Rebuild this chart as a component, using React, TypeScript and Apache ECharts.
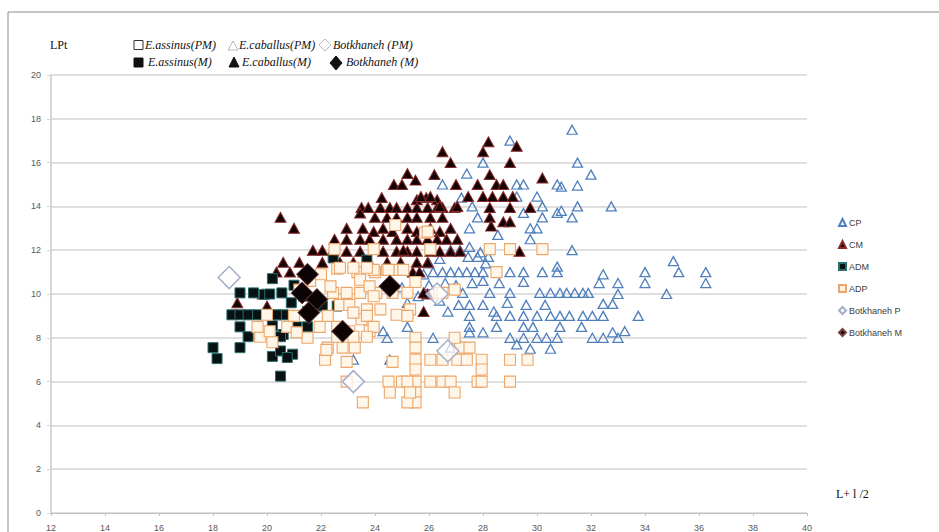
import React, { useEffect, useRef } from "react";
import * as echarts from "echarts";

const xTicks = [12, 40];
const yTicks = [0, 20];

const cpData = [
  [31.3,17.5],[29.0,17.0],[31.5,16.0],[28.0,16.0],[32.0,15.45],[27.4,15.5],[26.5,15.0],[29.25,15.0],[29.5,15.0],[30.75,15.0],[31.5,14.95],[30.9,14.9],
  [27.2,14.4],[29.25,14.45],[30.0,14.45],[27.6,14.0],[30.2,14.0],[31.5,14.0],[32.75,14.0],[29.5,13.7],[30.75,13.7],[30.9,13.8],[31.3,13.5],[27.8,13.5],
  [30.2,13.5],[27.5,13.0],[29.75,13.0],[30.0,13.0],[29.75,12.5],[28.55,12.7],[27.5,12.15],[31.3,12.0],[26.8,12.0],[27.15,12.0],[27.9,11.9],[27.45,11.7],
  [27.8,11.7],[28.2,11.7],[28.1,11.4],[30.75,11.25],
  [26.15,11.0],[26.5,11.0],[26.8,11.0],[27.1,11.0],[27.4,11.0],[27.7,11.0],[28.0,11.0],[29.0,11.0],[29.5,11.0],[30.2,11.0],[30.75,11.0],[32.45,10.9],
  [34.0,11.0],[35.25,11.0],[36.25,11.0],[35.05,11.5],
  [29.5,10.55],[32.3,10.5],[33.0,10.5],[34.0,10.5],[36.25,10.5],
  [27.25,10.05],[28.25,10.05],[29.0,10.05],[30.1,10.05],[30.5,10.05],[30.85,10.05],[31.1,10.05],[31.4,10.05],[31.7,10.05],[31.9,10.05],[33.0,10.0],[34.8,10.0],
  [27.5,9.5],[28.0,9.5],[32.45,9.55],[32.8,9.55],
  [27.5,9.0],[28.5,9.0],[29.0,9.0],[29.5,9.0],[30.0,9.0],[30.5,9.0],[30.85,9.0],[31.2,9.0],[31.7,9.0],[32.05,9.0],[32.45,9.0],[33.75,9.0],
  [27.5,8.5],[28.5,8.5],[29.5,8.5],[29.85,8.5],[30.85,8.5],[31.65,8.5],
  [26.15,8.0],[27.0,8.0],[27.5,8.25],[28.0,8.25],[29.0,8.0],[29.5,8.0],[30.0,8.0],[30.35,8.0],[30.75,8.0],[32.05,8.0],[32.45,8.0],[32.8,8.25],[33.0,8.0],[33.25,8.3],
  [29.25,7.7],[29.75,7.5],[30.5,7.5],
  [24.3,8.3],[24.45,8.0],[25.2,8.5],[23.2,7.0],[24.55,7.0],[26.8,7.55],
  [25.0,10.3],[25.5,10.6],[25.8,10.9],[26.0,10.4],[25.6,9.9],[25.2,9.6],[26.6,10.5],[26.0,11.4],[26.4,11.6],[26.7,9.2],[27.0,10.4],[27.6,10.5],
  [28.0,10.6],[28.6,10.5],[28.4,9.2],[28.9,9.6],[29.6,9.5],[30.3,9.5],[26.4,9.7],[27.1,9.5]
];

const cmData = [
  [20.5,13.5],[21.0,13.0],[26.5,16.5],[26.8,16.0],[28.2,16.95],[28.0,16.5],[29.25,16.75],[29.0,16.0],[30.2,15.3],[25.2,15.5],[24.7,15.0],[25.0,15.0],
  [25.5,15.2],[26.2,15.45],[27.0,15.0],[27.8,15.0],[28.25,15.45],[28.5,15.0],[28.75,15.0],
  [27.45,14.45],[28.0,14.45],[28.35,14.45],[28.75,14.45],[29.1,14.45],[24.25,14.4],[25.55,14.3],[25.9,14.4],[26.3,14.3],[25.7,14.45],[26.05,14.45],
  [23.5,13.95],[23.75,13.95],[24.2,13.95],[24.55,13.95],[24.8,13.95],[25.2,13.95],[25.55,13.95],[25.95,13.95],[26.3,13.95],[26.5,13.95],[26.95,13.95],
  [28.25,13.95],[29.0,13.95],[29.75,13.95],[26.4,14.0],[27.05,14.0],[23.45,13.7],
  [24.0,13.5],[24.45,13.5],[24.8,13.5],[25.2,13.5],[25.55,13.5],[26.05,13.5],[26.5,13.5],[28.25,13.5],[28.75,13.3],[29.0,13.3],[28.3,13.1],
  [22.95,13.0],[23.55,13.0],[23.95,12.85],[24.3,13.0],[24.65,12.85],[25.2,13.0],[25.55,12.85],[26.05,13.0],[26.4,12.85],[26.8,13.0],
  [22.5,12.5],[22.95,12.5],[23.45,12.5],[23.8,12.5],[24.3,12.5],[24.8,12.5],[25.2,12.5],[25.55,12.5],[25.95,12.5],[26.3,12.5],[26.65,12.5],[27.05,12.5],
  [21.7,12.0],[22.05,12.0],[22.45,12.0],[22.95,11.95],[23.45,11.95],[24.3,11.95],[24.8,11.95],[25.2,11.95],[25.55,11.95],[26.05,11.95],[26.4,11.95],
  [26.8,11.95],[27.15,11.95],[29.35,11.95],[25.05,12.0],
  [20.6,11.45],[21.2,11.45],[22.05,11.45],[22.7,11.45],[23.2,11.45],[23.8,11.45],[24.45,11.45],[24.95,11.45],[25.55,11.45],[25.95,11.45],
  [20.35,11.0],[20.85,11.0],[21.35,11.0],[25.4,11.0],[25.65,11.0],
  [25.95,10.0],[25.8,9.2],[25.8,10.05],
  [19.85,10.0],[18.9,9.6],[20.0,9.45]
];

const admData = [
  [20.2,10.7],[19.0,10.05],[19.5,10.05],[20.55,10.05],[19.9,9.98],[20.1,10.0],
  [18.7,9.05],[19.0,9.05],[19.3,9.05],[19.65,9.05],[20.6,9.05],[20.1,9.05],[20.35,9.05],
  [19.0,8.5],[19.3,8.05],[20.2,8.55],[20.85,8.5],[20.6,8.15],[21.1,8.5],[21.5,8.5],[20.5,8.05],
  [18.0,7.55],[18.15,7.05],[19.0,7.55],[20.2,7.15],[20.95,7.25],[20.5,7.4],[20.75,7.1],
  [20.5,6.25],
  [21.35,9.9],[22.45,11.65],[23.7,11.55],[22.05,9.45],[22.6,9.45],[21.5,9.2],[21.0,10.4],[20.9,9.6]
];

const adpData = [
  [22.6,11.15],[23.35,11.0],[24.0,11.0],[24.45,11.1],[25.5,10.55],[24.9,11.1],
  [22.45,10.05],[22.95,10.05],[23.45,10.05],[24.05,10.05],[24.65,10.05],[25.2,10.05],[26.4,10.05],
  [22.7,9.5],[23.05,9.5],[23.7,9.3],[24.2,9.3],[24.8,9.05],[25.3,9.3],
  [21.5,8.0],[21.95,8.5],[22.6,8.5],[23.05,8.3],[23.5,8.85],[23.8,8.3],
  [22.25,7.55],[22.8,7.55],[23.25,7.55],
  [22.15,7.0],[22.95,6.9],[24.65,6.9],
  [25.5,8.0],[25.5,7.55],[25.5,7.0],[25.5,6.55],[25.5,6.0],[25.5,5.5],[25.5,5.05],[25.2,5.05],
  [26.05,7.0],[26.5,7.0],[27.05,7.0],[27.4,7.0],[27.95,7.0],[27.15,7.55],[27.5,7.55],[27.95,6.55],[29.0,7.0],[29.65,7.0],
  [22.95,6.0],[24.5,6.0],[25.0,6.0],[25.2,6.0],[26.05,6.0],[26.5,6.0],[26.8,6.0],[27.8,6.0],[27.95,6.0],[29.0,6.0],
  [26.95,5.5],[23.55,5.05],[24.55,5.5],[25.3,5.5],
  [25.85,12.8],[26.05,12.05],[28.25,12.05],[29.0,12.05],[30.2,12.05],[28.5,11.0],[26.5,10.05],[26.95,10.2],[25.2,9.0],[26.95,8.0],
  [24.75,13.15],[25.95,12.85],[23.95,12.05],[22.5,12.05],[23.95,11.1],[24.5,11.1],[25.05,11.1],
  [22.7,11.2],[23.2,11.2],[23.7,11.2],[22.35,10.35],[23.45,10.65],[23.8,10.35],[23.95,9.9],[22.25,9.0],[23.2,9.15],[23.7,9.0],[23.95,8.5],
  [22.6,8.05],[23.2,8.05],[23.7,8.05],[22.2,7.45],[20.75,8.5],[21.1,8.25],[19.75,8.05],[20.2,7.8],[20.1,8.3],[19.65,8.5],[20.0,9.05],
  [21.2,10.2],[21.6,10.6],[22.0,10.9],[21.0,9.0]
];

const botPData = [[18.6,10.75],[23.2,6.0],[26.7,7.4],[26.3,10.0]];
const botMData = [[21.5,10.9],[21.3,10.05],[21.85,9.75],[21.55,9.15],[22.8,8.3],[24.55,10.35]];

const seriesNames = ["CP", "CM", "ADM", "ADP", "Botkhaneh P", "Botkhaneh M"];
const topLegendRow1 = ["E.assinus(PM)", "E.caballus(PM)", "Botkhaneh (PM)"];
const topLegendRow2 = ["E.assinus(M)", "E.caballus(M)", "Botkhaneh (M)"];

export default function App() {
  const ref = useRef<HTMLDivElement>(null);
  useEffect(() => {
    if (!ref.current) return;
    const chart = echarts.init(ref.current, null, { renderer: "svg" });
    const serif = "'Liberation Serif', 'DejaVu Serif', serif";
    const sans = "'Liberation Sans', 'Noto Sans', sans-serif";
    const legText = (x: number, y: number, t: string) => ({
      type: "text", x, y,
      style: { text: t, font: `italic 12px ${serif}`, fill: "#111", verticalAlign: "middle" },
    });
    chart.setOption({
      animation: false,
      backgroundColor: "#fff",
      grid: { left: 51, right: 132, top: 75, bottom: 18, containLabel: false },
      xAxis: {
        type: "value", min: xTicks[0], max: xTicks[1], interval: 2,
        axisLine: { show: true, lineStyle: { color: "#bfbfbf" } },
        axisTick: { show: true, length: 3, lineStyle: { color: "#bfbfbf" } },
        splitLine: { show: false },
        axisLabel: { color: "#595959", fontSize: 9, fontFamily: sans, margin: 10 },
      },
      yAxis: {
        type: "value", min: yTicks[0], max: yTicks[1], interval: 2,
        axisLine: { show: true, lineStyle: { color: "#c8c8c8", width: 1.5 } },
        axisTick: { show: true, length: 4, lineStyle: { color: "#d4d4d4" } },
        splitLine: { show: true, lineStyle: { color: "#d4d4d4", width: 1.5 } },
        axisLabel: { color: "#595959", fontSize: 9, fontFamily: sans, margin: 10 },
      },
      legend: {
        orient: "vertical", left: 833, top: 213, itemWidth: 7, itemHeight: 7, itemGap: 13,
        textStyle: { fontSize: 9, color: "#404040", fontFamily: sans, padding: [0, 0, 0, -2] },
        data: seriesNames,
      },
      series: [
        { name: seriesNames[0], type: "scatter", data: cpData, symbol: "triangle", symbolSize: [10, 9],
          itemStyle: { color: "rgba(255,255,255,0)", borderColor: "#4f7fbd", borderWidth: 1.3, opacity: 1 } },
        { name: seriesNames[1], type: "scatter", data: cmData, symbol: "triangle", symbolSize: [11, 10],
          itemStyle: { color: "#140404", borderColor: "#8a2a2a", borderWidth: 1, opacity: 1 } },
        { name: seriesNames[2], type: "scatter", data: admData, symbol: "rect", symbolSize: 10,
          itemStyle: { color: "#081212", borderColor: "#2b6d6d", borderWidth: 1, opacity: 1 } },
        { name: seriesNames[3], type: "scatter", data: adpData, symbol: "rect", symbolSize: 11,
          itemStyle: { color: "#fff6ea", borderColor: "#eda66a", borderWidth: 1.1, opacity: 1 } },
        { name: seriesNames[4], type: "scatter", data: botPData, symbol: "diamond", symbolSize: 22,
          itemStyle: { color: "rgba(255,255,255,0.7)", borderColor: "#a5aec9", borderWidth: 1.5, opacity: 1 } },
        { name: seriesNames[5], type: "scatter", data: botMData, symbol: "diamond", symbolSize: 22,
          itemStyle: { color: "#0c0404", borderColor: "#7a4040", borderWidth: 1, opacity: 1 } },
      ],
      graphic: [
        { type: "rect", shape: { x: 8, y: 12, width: 940, height: 530 }, style: { fill: "none", stroke: "#8c8c8c", lineWidth: 1 }, silent: true },
        { type: "text", x: 50, y: 45, style: { text: "LPt", font: `12px ${serif}`, fill: "#111", verticalAlign: "middle" } },
        { type: "text", x: 836, y: 494, style: { text: "L+ l /2", font: `12px ${serif}`, fill: "#111", verticalAlign: "middle" } },
        { type: "rect", shape: { x: 134, y: 40.5, width: 9, height: 9 }, style: { fill: "#fff", stroke: "#333", lineWidth: 1 } },
        legText(145, 45, topLegendRow1[0]),
        { type: "polygon", shape: { points: [[228, 50], [233, 41], [238, 50]] }, style: { fill: "#fff", stroke: "#b8b8b8", lineWidth: 1 } },
        legText(239, 45, topLegendRow1[1]),
        { type: "polygon", shape: { points: [[325, 39], [331, 45], [325, 51], [319, 45]] }, style: { fill: "#fff", stroke: "#b8b8b8", lineWidth: 1 } },
        legText(333, 45, topLegendRow1[2]),
        { type: "rect", shape: { x: 134, y: 58, width: 9, height: 9 }, style: { fill: "#111", stroke: "#111", lineWidth: 1 } },
        legText(148, 62, topLegendRow2[0]),
        { type: "polygon", shape: { points: [[229, 67], [234, 57], [239, 67]] }, style: { fill: "#111", stroke: "#111", lineWidth: 1 } },
        legText(242, 62, topLegendRow2[1]),
        { type: "polygon", shape: { points: [[336, 56], [342, 63], [336, 70], [330, 63]] }, style: { fill: "#111", stroke: "#111", lineWidth: 1 } },
        legText(346, 62, topLegendRow2[2]),
      ],
    });
    return () => chart.dispose();
  }, []);
  return <div ref={ref} style={{ position: "fixed", left: 0, top: 0, width: 939, height: 532 }} />;
}
